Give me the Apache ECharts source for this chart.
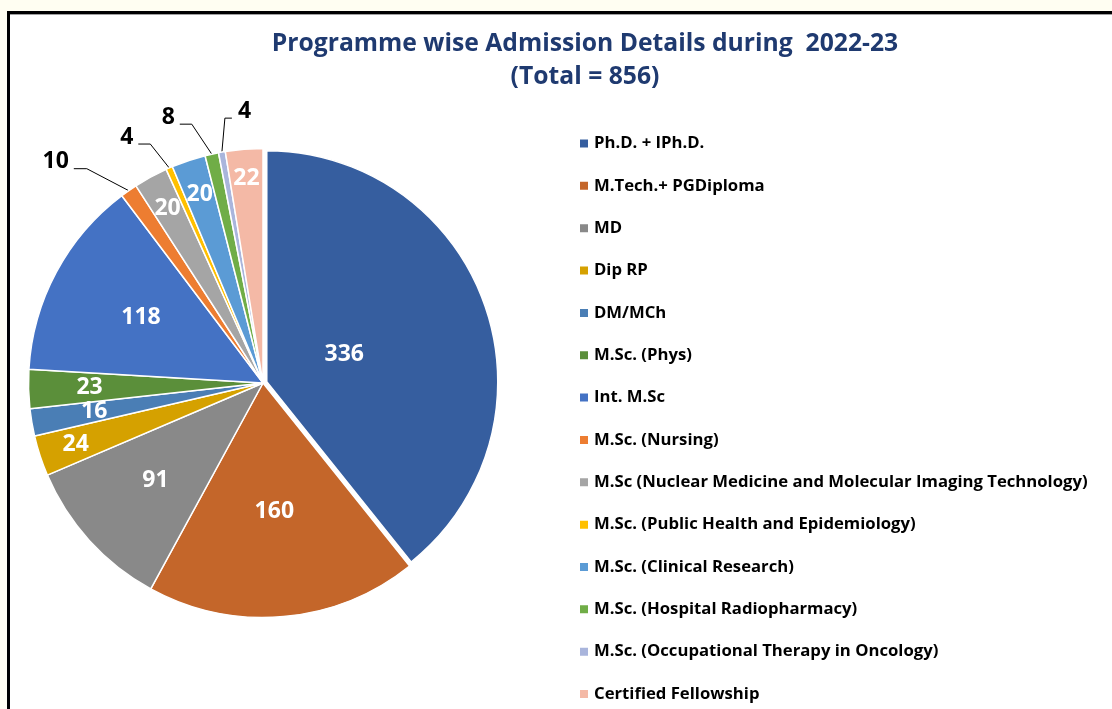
<!DOCTYPE html>
<html>
<head>
<meta charset="utf-8">
<title>Programme wise Admission Details 2022-23</title>
<script src="https://cdn.jsdelivr.net/npm/echarts@6/dist/echarts.min.js"></script>
<style>
  html, body { margin: 0; padding: 0; background: #fffef2; overflow: hidden; }
  #frame {
    position: absolute; left: 7px; top: 11px; width: 1200px; height: 800px;
    background: #ffffff; border-left: 3px solid #000; border-top: 3px solid #000;
    box-shadow: inset 0 1px 0 #a0a0a0;
  }
  #chart { position: absolute; left: 0; top: 0; width: 1112px; height: 709px; }
</style>
</head>
<body>
<div id="frame"></div>
<div id="chart"></div>
<script>
// ---- data ----
const chartTitle = 'Programme wise Admission Details during  2022-23';
const programmes = [
  'Ph.D. + IPh.D.',
  'M.Tech.+ PGDiploma',
  'MD',
  'Dip RP',
  'DM/MCh',
  'M.Sc. (Phys)',
  'Int. M.Sc',
  'M.Sc. (Nursing)',
  'M.Sc (Nuclear Medicine and Molecular Imaging Technology)',
  'M.Sc. (Public Health and Epidemiology)',
  'M.Sc. (Clinical Research)',
  'M.Sc. (Hospital Radiopharmacy)',
  'M.Sc. (Occupational Therapy in Oncology)',
  'Certified Fellowship'
];
const admissions = [336, 160, 91, 24, 16, 23, 118, 10, 20, 4, 20, 8, 4, 22];
const sliceColors = [
  '#365E9F', '#C4662A', '#898989', '#D5A100', '#4A7EB5', '#5B8F3A', '#4472C4',
  '#ED7D31', '#A5A5A5', '#FFC000', '#5B9BD5', '#70AD47', '#A9B5DC', '#F4B9A6'
];

// ---- layout ----
const FONT = '"Open Sans", Lato, sans-serif';
const CX = 263, CY = 383, R = 234.5;
// the first slice is pulled out a little and drawn slightly smaller
const EXPLODED = 0, EXPLODE = 4, EXPLODED_R = 231;
const total = admissions.reduce((a, b) => a + b, 0);

// label distance from centre (fraction of radius) for labels drawn on the slice
const insideLabelRadius = {
  0: 0.35, 1: 0.55, 2: 0.62, 3: 0.84, 4: 0.73, 5: 0.74, 6: 0.59,
  8: 0.85, 10: 0.85, 13: 0.875
};
// leader lines for the thin slices: bend offset from the rim, then a short horizontal run
const leaderLines = {
  7:  { bend: [-42, -22], run: -13 },
  9:  { bend: [-19, -24], run: -12 },
  11: { bend: [-20, -30], run: -12 },
  12: { bend: [3, -34],   run: 7 }
};

// mid angle of each slice, clockwise from 12 o'clock
const midAngles = [];
let acc = 0;
admissions.forEach(v => { midAngles.push((acc + v / 2) / total * 2 * Math.PI); acc += v; });
const dirOf = i => [Math.sin(midAngles[i]), -Math.cos(midAngles[i])];
const explodeDir = dirOf(EXPLODED);
const ECX = CX + explodeDir[0] * EXPLODE, ECY = CY + explodeDir[1] * EXPLODE;

function sliceItem(i) {
  const outside = leaderLines[i] !== undefined;
  return {
    name: programmes[i],
    value: admissions[i],
    programme: i,
    itemStyle: { color: sliceColors[i] },
    label: outside
      ? { show: true, position: 'outside', color: '#000000' }
      : { show: true, position: 'inside', color: '#ffffff' },
    labelLine: { show: outside }
  };
}
// an invisible stand-in that keeps a slice's angular room in the other ring
function gapItem(value) {
  return {
    name: '', value: value, programme: -1,
    itemStyle: { color: 'rgba(0,0,0,0)', borderWidth: 0 },
    label: { show: false }, labelLine: { show: false },
    tooltip: { show: false }
  };
}

const restData = programmes.map((_, i) => i === EXPLODED ? gapItem(admissions[i]) : sliceItem(i));
const explodedData = [sliceItem(EXPLODED), gapItem(total - admissions[EXPLODED])];

function placeLabel(p, ox, oy, radius) {
  const data = p.seriesIndex === 0 ? explodedData : restData;
  const i = data[p.dataIndex].programme;
  if (i < 0) return {};
  const d = dirOf(i);
  const leader = leaderLines[i];
  if (!leader) {
    const f = insideLabelRadius[i];
    return { x: ox + d[0] * R * f, y: oy + d[1] * R * f, align: 'center', verticalAlign: 'middle' };
  }
  const e = [ox + d[0] * radius, oy + d[1] * radius];
  const b = [e[0] + leader.bend[0], e[1] + leader.bend[1]];
  const h = [b[0] + leader.run, b[1]];
  const left = leader.run < 0;
  return {
    x: h[0] + (left ? -5 : 6),
    y: h[1] - 7,
    align: left ? 'right' : 'left',
    verticalAlign: 'middle',
    labelLinePoints: [e, b, h]
  };
}

const pieCommon = {
  type: 'pie',
  startAngle: 90,
  clockwise: true,
  avoidLabelOverlap: false,
  emphasis: { disabled: true },
  itemStyle: { borderColor: '#ffffff', borderWidth: 1.5 },
  label: { show: true, formatter: '{c}', fontFamily: FONT, fontWeight: 'bold', fontSize: 23 },
  labelLine: { length: 10, length2: 10, lineStyle: { color: '#000000', width: 1 } }
};

const chart = echarts.init(document.getElementById('chart'), null, { renderer: 'canvas' });
chart.setOption({
  backgroundColor: 'transparent',
  animation: false,
  title: {
    text: chartTitle + '\n(Total = ' + total + ')',
    left: 580,
    top: 22,
    textAlign: 'center',
    textStyle: {
      fontFamily: FONT, fontWeight: 'bold', fontSize: 24.7, lineHeight: 33, color: '#1F3A70'
    }
  },
  legend: {
    orient: 'vertical',
    left: 578,
    top: 135,
    padding: 0,
    itemWidth: 10,
    itemHeight: 10,
    itemGap: 25.35,
    icon: 'rect',
    selectedMode: false,
    textStyle: { fontFamily: FONT, fontWeight: 'bold', fontSize: 16.7, lineHeight: 16.7, color: '#000000' },
    data: programmes
  },
  series: [
    Object.assign({}, pieCommon, {
      name: 'exploded',
      center: [ECX, ECY],
      radius: EXPLODED_R,
      labelLayout: p => placeLabel(p, ECX, ECY, EXPLODED_R),
      data: explodedData
    }),
    Object.assign({}, pieCommon, {
      name: 'admissions',
      center: [CX, CY],
      radius: R,
      labelLayout: p => placeLabel(p, CX, CY, R),
      data: restData
    })
  ]
});
</script>
</body>
</html>
